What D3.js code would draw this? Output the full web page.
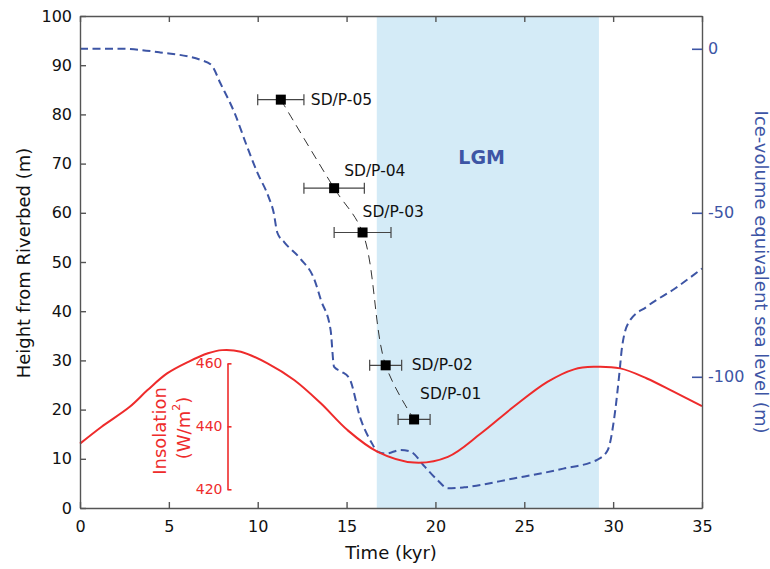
<!DOCTYPE html>
<html>
<head>
<meta charset="utf-8">
<script src="https://cdn.jsdelivr.net/npm/d3@7"></script>
<style>
body { margin: 0; background: #fff; }
text { font-family: "DejaVu Sans", sans-serif; }
</style>
</head>
<body>
<div id="canvas"></div>
<script>
"use strict"

let drawingWidth = 770;
let drawingHeight = 569;

/* Dated samples: name, age (kyr), age error (kyr), height above riverbed (m) */
let sampleNames = ["SD/P-05", "SD/P-04", "SD/P-03", "SD/P-02", "SD/P-01"];
let sampleAges = [11.3, 14.3, 15.9, 17.2, 18.8];
let sampleErrors = [1.3, 1.7, 1.6, 0.9, 0.9];
let sampleHeights = [83, 65, 56, 29, 18];

/* Ice-volume equivalent sea level (m) */
let seaLevelAges = [0, 2.3, 4.5, 6.8, 7.4, 7.9, 8.7, 9.4, 10, 10.6, 10.9, 11.1, 11.5, 12.4, 13.2, 13.55,
    14.1, 14.3, 14.7, 15.15, 15.8, 16.4, 16.75, 17.2, 18.05, 18.6, 19.4, 20.1, 20.7, 21.6, 24.4, 27.2,
    29.1, 29.7, 30.05, 30.35, 30.5, 30.9, 31.9, 33.5, 35];
let seaLevelValues = [0, 0, -1.1, -3.4, -5, -10.5, -19.6, -29.8, -38, -45, -50, -56, -59, -64, -70.5, -76.5,
    -85.7, -97, -98.4, -100.4, -113, -120, -122.8, -123.4, -122.3, -122.8, -127.4, -131.4, -134, -133.7, -131, -128,
    -125.3, -122.3, -113, -99, -91, -83.2, -78.6, -73, -67];

/* Insolation (W/m2) */
let insolationAges = [0, 1.2, 2.8, 3.8, 4.9, 6.1, 7.2, 8, 9.05, 10.55, 12.05, 13.55, 15.05, 16.75,
    18.8, 20.7, 22.55, 24.4, 26.3, 27.8, 28.9, 30.4, 31.9, 33.4, 35];
let insolationValues = [434.5, 439.8, 446.2, 451.5, 456.8, 460.5, 463.2, 464.2, 463.7, 460, 454.7, 447.3, 438.8, 431.9,
    428.5, 430.3, 437.7, 446.2, 454.1, 458.1, 458.9, 458.4, 455.2, 451, 446.4];

let lgmStart = 16.7;
let lgmEnd = 29.2;

let timeTicks = [0, 5, 10, 15, 20, 25, 30, 35];
let heightTicks = [0, 10, 20, 30, 40, 50, 60, 70, 80, 90, 100];
let seaLevelTicks = [0, -50, -100];
let insolationTicks = [420, 440, 460];

/* label placement relative to each sample marker */
let labelOffsets = [[30, 0], [10, -17], [0, -20], [26, 0], [6, -25]];

let axisGray = "#555";
let blue = "#3d55a5";
let red = "#ee2b2b";

let drawing = d3.select("#canvas")
    .append("svg")
    .attr("width", drawingWidth)
    .attr("height", drawingHeight);

let x = d3.scaleLinear().domain([0, 35]).range([80, 702]);
let y = d3.scaleLinear().domain([0, 100]).range([508, 16]);
let ySea = d3.scaleLinear().domain([-140, 10]).range([508, 16]);
let yIns = d3.scaleLinear().domain([420, 460]).range([y(3.8), y(29.4)]);

/* plain hyphen for negative labels, as in the original */
let plainFormat = d => String(d);

/* LGM band */
drawing.append("rect")
    .attr("x", x(lgmStart))
    .attr("y", y(100))
    .attr("width", x(lgmEnd) - x(lgmStart))
    .attr("height", y(0) - y(100))
    .attr("fill", "#d4ebf7");

drawing.append("text")
    .attr("x", x(22.6))
    .attr("y", 157)
    .attr("text-anchor", "middle")
    .attr("dominant-baseline", "central")
    .attr("font-size", 19)
    .attr("font-weight", "bold")
    .attr("fill", blue)
    .text("LGM");

/* sea level curve */
let seaLine = d3.line()
    .x((d, i) => x(seaLevelAges[i]))
    .y(d => ySea(d))
    .curve(d3.curveMonotoneX);

drawing.append("path")
    .attr("d", seaLine(seaLevelValues))
    .attr("fill", "none")
    .attr("stroke", blue)
    .attr("stroke-width", 2)
    .attr("stroke-dasharray", "8,4.5");

/* insolation curve */
let insLine = d3.line()
    .x((d, i) => x(insolationAges[i]))
    .y(d => yIns(d))
    .curve(d3.curveCatmullRom);

drawing.append("path")
    .attr("d", insLine(insolationValues))
    .attr("fill", "none")
    .attr("stroke", red)
    .attr("stroke-width", 2);

/* insolation scale bar */
let insAxis = drawing.append("g")
    .attr("transform", "translate(227.5,0)")
    .call(d3.axisLeft(yIns).tickValues(insolationTicks).tickSizeInner(-4).tickSizeOuter(0).tickPadding(5));
insAxis.selectAll("path, line").attr("stroke", red).attr("stroke-width", 1.6);
insAxis.selectAll("text").attr("fill", red).attr("font-size", 14).attr("font-family", "DejaVu Sans");

drawing.append("text")
    .attr("transform", "translate(159," + 431 + ") rotate(-90)")
    .attr("text-anchor", "middle")
    .attr("dominant-baseline", "central")
    .attr("font-size", 18)
    .attr("fill", red)
    .text("Insolation");

let insUnit = drawing.append("text")
    .attr("transform", "translate(183," + 428 + ") rotate(-90)")
    .attr("text-anchor", "middle")
    .attr("dominant-baseline", "central")
    .attr("font-size", 18)
    .attr("fill", red);
insUnit.append("tspan").text("(W/m");
insUnit.append("tspan").attr("font-size", 11).attr("dy", -7).text("2");
insUnit.append("tspan").attr("dy", 7).text(")");

/* dashed trend through samples */
let sampleLine = d3.line()
    .x((d, i) => x(sampleAges[i]))
    .y(d => y(d))
    .curve(d3.curveCatmullRom);

drawing.append("path")
    .attr("d", sampleLine(sampleHeights))
    .attr("fill", "none")
    .attr("stroke", "#333")
    .attr("stroke-width", 1)
    .attr("stroke-dasharray", "9,6");

/* error bars */
let errorBars = drawing.append("g")
    .attr("stroke", "#444")
    .attr("stroke-width", 1.2);

sampleHeights.forEach((h, i) => {
    let x0 = x(sampleAges[i] - sampleErrors[i]);
    let x1 = x(sampleAges[i] + sampleErrors[i]);
    errorBars.append("line").attr("x1", x0).attr("x2", x1).attr("y1", y(h)).attr("y2", y(h));
    errorBars.append("line").attr("x1", x0).attr("x2", x0).attr("y1", y(h) - 5.5).attr("y2", y(h) + 5.5);
    errorBars.append("line").attr("x1", x1).attr("x2", x1).attr("y1", y(h) - 5.5).attr("y2", y(h) + 5.5);
});

/* sample markers */
drawing.selectAll(".marker")
    .data(sampleHeights)
    .enter()
    .append("rect")
    .attr("class", "marker")
    .attr("x", (d, i) => x(sampleAges[i]) - 5)
    .attr("y", d => y(d) - 5)
    .attr("width", 10)
    .attr("height", 10)
    .attr("fill", "black");

drawing.selectAll(".sampleLabel")
    .data(sampleNames)
    .enter()
    .append("text")
    .attr("class", "sampleLabel")
    .attr("x", (d, i) => x(sampleAges[i]) + labelOffsets[i][0])
    .attr("y", (d, i) => y(sampleHeights[i]) + labelOffsets[i][1])
    .attr("dominant-baseline", "central")
    .attr("font-size", 15.5)
    .attr("fill", "#111")
    .text(d => d);

/* axes */
function styleAxis(g) {
    g.selectAll("path, line").attr("stroke", axisGray).attr("stroke-width", 1.4);
    g.selectAll("text").attr("fill", "#111").attr("font-size", 16).attr("font-family", "DejaVu Sans");
}

drawing.append("g")
    .attr("transform", "translate(0,508)")
    .call(d3.axisBottom(x).tickValues(timeTicks).tickSizeInner(-6).tickSizeOuter(0).tickPadding(13))
    .call(styleAxis);

drawing.append("g")
    .attr("transform", "translate(0,16)")
    .call(d3.axisTop(x).tickValues(timeTicks).tickFormat("").tickSizeInner(-6).tickSizeOuter(0))
    .call(styleAxis);

drawing.append("g")
    .attr("transform", "translate(80,0)")
    .call(d3.axisLeft(y).tickValues(heightTicks).tickSizeInner(-6).tickSizeOuter(0).tickPadding(8))
    .call(styleAxis);

drawing.append("g")
    .attr("transform", "translate(702,0)")
    .call(d3.axisRight(y).tickValues([]).tickSizeOuter(0))
    .call(styleAxis);

let seaAxis = drawing.append("g")
    .attr("transform", "translate(702,0)")
    .call(d3.axisRight(ySea).tickValues(seaLevelTicks).tickFormat(plainFormat)
        .tickSizeInner(-10).tickSizeOuter(0).tickPadding(6));
seaAxis.select(".domain").remove();
seaAxis.selectAll("line").attr("stroke", blue).attr("stroke-width", 1.6);
seaAxis.selectAll("text").attr("fill", blue).attr("font-size", 16).attr("font-family", "DejaVu Sans");

/* axis titles */
drawing.append("text")
    .attr("x", 391)
    .attr("y", 559)
    .attr("text-anchor", "middle")
    .attr("font-size", 18)
    .attr("fill", "#111")
    .text("Time (kyr)");

drawing.append("text")
    .attr("transform", "translate(23,263) rotate(-90)")
    .attr("text-anchor", "middle")
    .attr("dominant-baseline", "central")
    .attr("font-size", 18)
    .attr("fill", "#111")
    .text("Height from Riverbed (m)");

drawing.append("text")
    .attr("transform", "translate(761,272) rotate(90)")
    .attr("text-anchor", "middle")
    .attr("dominant-baseline", "central")
    .attr("font-size", 18)
    .attr("fill", blue)
    .text("Ice-volume equivalent sea level (m)");
</script>
</body>
</html>
